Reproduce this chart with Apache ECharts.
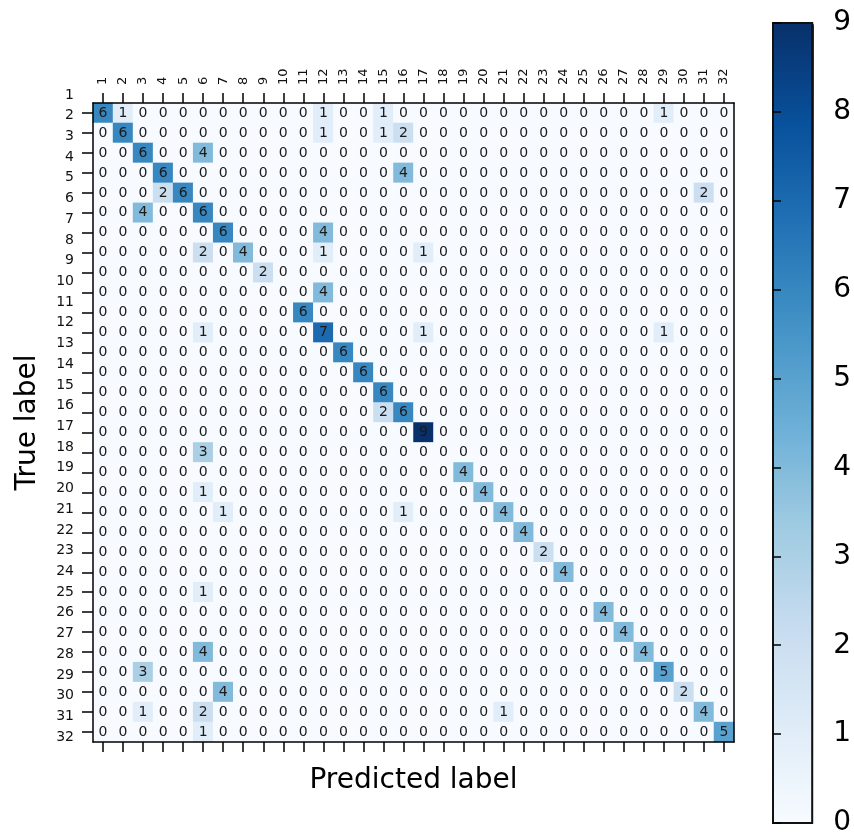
<!DOCTYPE html>
<html>
<head>
<meta charset="utf-8">
<script src="https://cdn.jsdelivr.net/npm/echarts@6/dist/echarts.min.js"></script>
<style>
html,body{margin:0;padding:0;background:#ffffff;}
#chart{width:854px;height:837px;}
</style>
</head>
<body>
<div id="chart"></div>
<script>
// Predicted (column) labels
const predLabels = ['1','2','3','4','5','6','7','8','9','10','11','12','13','14','15','16',
                    '17','18','19','20','21','22','23','24','25','26','27','28','29','30','31','32'];
// True (row) labels as drawn on the left axis
const trueLabels = ['1','2','3','4','5','6','7','8','9','10','11','12','13','14','15','16',
                    '17','18','19','20','21','22','23','24','25','26','27','28','29','30','31','32'];
// Colour bar tick labels
const colorTicks = [0,1,2,3,4,5,6,7,8,9];
// matplotlib "Blues" colour map
const blues = ['#f7fbff','#deebf7','#c6dbef','#9ecae1','#6baed6','#4292c6','#2171b5','#08519c','#08306b'];

// Confusion matrix counts, one row per true class (top to bottom), columns = predicted 1..32
const counts = [
  [6,1,0,0,0,0,0,0, 0,0,0,1,0,0,1,0, 0,0,0,0,0,0,0,0, 0,0,0,0,1,0,0,0],
  [0,6,0,0,0,0,0,0, 0,0,0,1,0,0,1,2, 0,0,0,0,0,0,0,0, 0,0,0,0,0,0,0,0],
  [0,0,6,0,0,4,0,0, 0,0,0,0,0,0,0,0, 0,0,0,0,0,0,0,0, 0,0,0,0,0,0,0,0],
  [0,0,0,6,0,0,0,0, 0,0,0,0,0,0,0,4, 0,0,0,0,0,0,0,0, 0,0,0,0,0,0,0,0],
  [0,0,0,2,6,0,0,0, 0,0,0,0,0,0,0,0, 0,0,0,0,0,0,0,0, 0,0,0,0,0,0,2,0],
  [0,0,4,0,0,6,0,0, 0,0,0,0,0,0,0,0, 0,0,0,0,0,0,0,0, 0,0,0,0,0,0,0,0],
  [0,0,0,0,0,0,6,0, 0,0,0,4,0,0,0,0, 0,0,0,0,0,0,0,0, 0,0,0,0,0,0,0,0],
  [0,0,0,0,0,2,0,4, 0,0,0,1,0,0,0,0, 1,0,0,0,0,0,0,0, 0,0,0,0,0,0,0,0],
  [0,0,0,0,0,0,0,0, 2,0,0,0,0,0,0,0, 0,0,0,0,0,0,0,0, 0,0,0,0,0,0,0,0],
  [0,0,0,0,0,0,0,0, 0,0,0,4,0,0,0,0, 0,0,0,0,0,0,0,0, 0,0,0,0,0,0,0,0],
  [0,0,0,0,0,0,0,0, 0,0,6,0,0,0,0,0, 0,0,0,0,0,0,0,0, 0,0,0,0,0,0,0,0],
  [0,0,0,0,0,1,0,0, 0,0,0,7,0,0,0,0, 1,0,0,0,0,0,0,0, 0,0,0,0,1,0,0,0],
  [0,0,0,0,0,0,0,0, 0,0,0,0,6,0,0,0, 0,0,0,0,0,0,0,0, 0,0,0,0,0,0,0,0],
  [0,0,0,0,0,0,0,0, 0,0,0,0,0,6,0,0, 0,0,0,0,0,0,0,0, 0,0,0,0,0,0,0,0],
  [0,0,0,0,0,0,0,0, 0,0,0,0,0,0,6,0, 0,0,0,0,0,0,0,0, 0,0,0,0,0,0,0,0],
  [0,0,0,0,0,0,0,0, 0,0,0,0,0,0,2,6, 0,0,0,0,0,0,0,0, 0,0,0,0,0,0,0,0],
  [0,0,0,0,0,0,0,0, 0,0,0,0,0,0,0,0, 9,0,0,0,0,0,0,0, 0,0,0,0,0,0,0,0],
  [0,0,0,0,0,3,0,0, 0,0,0,0,0,0,0,0, 0,0,0,0,0,0,0,0, 0,0,0,0,0,0,0,0],
  [0,0,0,0,0,0,0,0, 0,0,0,0,0,0,0,0, 0,0,4,0,0,0,0,0, 0,0,0,0,0,0,0,0],
  [0,0,0,0,0,1,0,0, 0,0,0,0,0,0,0,0, 0,0,0,4,0,0,0,0, 0,0,0,0,0,0,0,0],
  [0,0,0,0,0,0,1,0, 0,0,0,0,0,0,0,1, 0,0,0,0,4,0,0,0, 0,0,0,0,0,0,0,0],
  [0,0,0,0,0,0,0,0, 0,0,0,0,0,0,0,0, 0,0,0,0,0,4,0,0, 0,0,0,0,0,0,0,0],
  [0,0,0,0,0,0,0,0, 0,0,0,0,0,0,0,0, 0,0,0,0,0,0,2,0, 0,0,0,0,0,0,0,0],
  [0,0,0,0,0,0,0,0, 0,0,0,0,0,0,0,0, 0,0,0,0,0,0,0,4, 0,0,0,0,0,0,0,0],
  [0,0,0,0,0,1,0,0, 0,0,0,0,0,0,0,0, 0,0,0,0,0,0,0,0, 0,0,0,0,0,0,0,0],
  [0,0,0,0,0,0,0,0, 0,0,0,0,0,0,0,0, 0,0,0,0,0,0,0,0, 0,4,0,0,0,0,0,0],
  [0,0,0,0,0,0,0,0, 0,0,0,0,0,0,0,0, 0,0,0,0,0,0,0,0, 0,0,4,0,0,0,0,0],
  [0,0,0,0,0,4,0,0, 0,0,0,0,0,0,0,0, 0,0,0,0,0,0,0,0, 0,0,0,4,0,0,0,0],
  [0,0,3,0,0,0,0,0, 0,0,0,0,0,0,0,0, 0,0,0,0,0,0,0,0, 0,0,0,0,5,0,0,0],
  [0,0,0,0,0,0,4,0, 0,0,0,0,0,0,0,0, 0,0,0,0,0,0,0,0, 0,0,0,0,0,2,0,0],
  [0,0,1,0,0,2,0,0, 0,0,0,0,0,0,0,0, 0,0,0,0,1,0,0,0, 0,0,0,0,0,0,4,0],
  [0,0,0,0,0,1,0,0, 0,0,0,0,0,0,0,0, 0,0,0,0,0,0,0,0, 0,0,0,0,0,0,0,5]
];

const heatData = [];
counts.forEach(function (row, r) {
  row.forEach(function (v, c) { heatData.push([c, r, v]); });
});

const FONT = 'DejaVu Sans';
const black = '#000000';
const tickStyle = { color: black, width: 1.5 };

const chart = echarts.init(document.getElementById('chart'), null, { renderer: 'canvas' });
chart.setOption({
  animation: false,
  backgroundColor: '#ffffff',
  grid: [
    { left: 93, top: 103, width: 641, height: 639, containLabel: false },
    { left: 93, top: 95, width: 641, height: 642, containLabel: false },
    { left: 773, top: 23, width: 41, height: 800, containLabel: false,
      show: true, borderColor: '#111', borderWidth: 2, backgroundColor: 'transparent', z: 10 }
  ],
  xAxis: [
    { // top axis: ticks (labels drawn below via graphic, placed from this axis' scale)
      type: 'category', gridIndex: 0, data: predLabels, position: 'top', z: 10,
      axisLine: { show: true, lineStyle: { color: black, width: 1.5 } },
      axisTick: { show: true, alignWithLabel: true, length: 10, lineStyle: tickStyle, interval: 0 },
      axisLabel: { show: false },
      splitLine: { show: false }
    },
    { // bottom axis: ticks only, with title
      type: 'category', gridIndex: 0, data: predLabels, position: 'bottom', z: 10,
      axisLine: { show: true, lineStyle: { color: black, width: 1.5 } },
      axisTick: { show: true, alignWithLabel: true, length: 10, lineStyle: tickStyle, interval: 0 },
      axisLabel: { show: false },
      name: 'Predicted label', nameLocation: 'middle', nameGap: 25,
      nameTextStyle: { fontSize: 28, fontFamily: FONT, color: black }
    },
    { type: 'value', gridIndex: 1, show: false },
    { type: 'value', gridIndex: 2, show: false }
  ],
  yAxis: [
    { // main row axis: ticks only
      type: 'category', gridIndex: 0, data: trueLabels, inverse: true, position: 'left', z: 10,
      axisLine: { show: true, lineStyle: { color: black, width: 1.5 } },
      axisTick: { show: true, alignWithLabel: true, length: 11, lineStyle: tickStyle, interval: 0 },
      axisLabel: { show: false },
      name: 'True label', nameLocation: 'middle', nameRotate: 90, nameGap: 51,
      nameTextStyle: { fontSize: 28, fontFamily: FONT, color: black }
    },
    { // right frame line
      type: 'category', gridIndex: 0, data: trueLabels, inverse: true, position: 'right', z: 10,
      axisLine: { show: true, lineStyle: { color: black, width: 1.5 } },
      axisTick: { show: false }, axisLabel: { show: false }
    },
    { // row tick labels (as placed in the reference)
      type: 'category', gridIndex: 1, data: trueLabels, inverse: true, boundaryGap: false, position: 'left',
      axisLine: { show: false }, axisTick: { show: false }, splitLine: { show: false },
      axisLabel: { show: true, interval: 0, fontSize: 14, fontFamily: FONT, color: '#111', margin: 19 }
    },
    { // colour bar axis
      type: 'value', gridIndex: 2, min: colorTicks[0], max: colorTicks[colorTicks.length - 1], interval: 1,
      position: 'right', z: 10,
      axisLine: { show: true, lineStyle: { color: '#111', width: 2 } },
      axisTick: { show: true, length: 8, lineStyle: tickStyle },
      splitLine: { show: false },
      axisLabel: { show: true, fontSize: 28, fontFamily: FONT, color: black, margin: 21 }
    }
  ],
  visualMap: {
    type: 'continuous', min: 0, max: 9, seriesIndex: 0, calculable: false, show: true,
    orient: 'vertical', left: 773, top: 23, itemWidth: 41, itemHeight: 800, padding: 0,
    text: null, inRange: { color: blues }, hoverLink: false
  },
  series: [{
    type: 'heatmap', xAxisIndex: 0, yAxisIndex: 0, data: heatData,
    label: { show: true, fontSize: 14, fontFamily: FONT, color: '#1a1a1a',
      formatter: function (p) { return String(p.value[2]); } },
    itemStyle: { borderWidth: 0 },
    emphasis: { disabled: true }
  }]
});

// Rotated column labels above the top ticks, x taken from the top axis scale
const topLabels = predLabels.map(function (lab) {
  const x = chart.convertToPixel({ xAxisIndex: 0 }, lab);
  return {
    type: 'text', x: x, y: 85, rotation: Math.PI / 2, z: 20,
    style: { text: lab, fontSize: 13, fontFamily: FONT, fill: '#111', align: 'left', verticalAlign: 'middle' }
  };
});
chart.setOption({ graphic: topLabels });
</script>
</body>
</html>
